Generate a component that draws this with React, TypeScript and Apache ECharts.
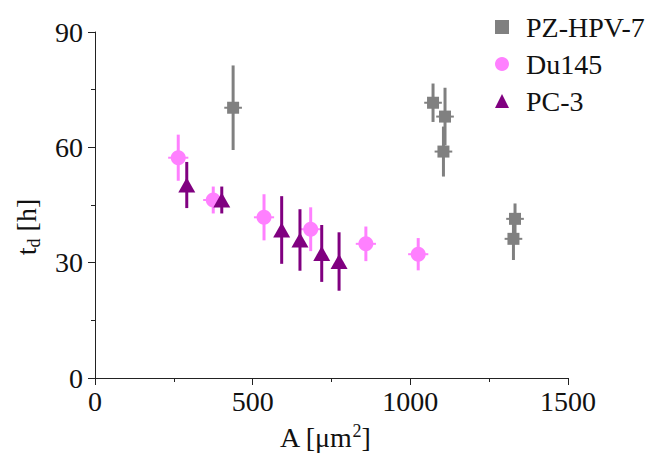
import React, { useEffect, useRef } from "react";
import * as echarts from "echarts";

// values
const pzX = [438, 1072, 1110, 1105, 1332, 1327];
const pzY = [70.3, 71.6, 68.0, 58.9, 41.4, 36.2];
const pzXErr = [28, 28, 28, 28, 28, 28];
const pzYErr = [11, 5, 7.5, 6.5, 4, 5.5];

const duX = [264, 375, 536, 684, 859, 1025];
const duY = [57.3, 46.3, 41.8, 38.7, 34.9, 32.2];
const duXErr = [32, 32, 32, 32, 32, 32];
const duYErr = [6, 3.5, 6, 5.7, 4.5, 4.2];

const pcX = [291, 402, 592, 650, 719, 774];
const pcY = [50.2, 46.3, 38.5, 35.9, 32.4, 30.3];
const pcXErr = [5, 5, 5, 5, 5, 5];
const pcYErr = [6, 3.5, 8.8, 8, 7.4, 7.6];

const seriesNames = ["PZ-HPV-7", "Du145", "PC-3"];
const colors = ["#808080", "#ff80ff", "#800080"];
const symbols = ["rect", "circle", "triangle"];
const symbolSizes: any[] = [12, 15, [17, 15]];

const xTitle = "{a|A [μm}{sup|2}{a|]}";
const yTitle = "{a|t}{sub|d}{a| [h]}";

const FONT = "Liberation Serif";

function rows(x: number[], y: number[], ex: number[], ey: number[]) {
  return x.map((v, i) => [v, y[i], ex[i], ey[i]]);
}

export default function App() {
  const ref = useRef<HTMLDivElement>(null);
  useEffect(() => {
    document.body.style.margin = "0";
    if (!ref.current) return;
    const chart = echarts.init(ref.current, undefined, { renderer: "svg" });
    const sets = [
      rows(pzX, pzY, pzXErr, pzYErr),
      rows(duX, duY, duXErr, duYErr),
      rows(pcX, pcY, pcXErr, pcYErr),
    ];
    const series: any[] = [];
    sets.forEach((data, k) => {
      series.push({
        type: "custom",
        name: seriesNames[k] + "-err",
        data,
        renderItem: (params: any, api: any) => {
          const x = api.value(0);
          const y = api.value(1);
          const ex = api.value(2);
          const ey = api.value(3);
          const top = api.coord([x, y + ey]);
          const bot = api.coord([x, y - ey]);
          const l = api.coord([x - ex, y]);
          const r = api.coord([x + ex, y]);
          const st = { stroke: colors[k], lineWidth: 3 };
          return {
            type: "group",
            children: [
              { type: "line", shape: { x1: top[0], y1: top[1], x2: bot[0], y2: bot[1] }, style: st },
              { type: "line", shape: { x1: l[0], y1: l[1], x2: r[0], y2: r[1] }, style: { stroke: colors[k], lineWidth: 2 } },
            ],
          };
        },
        encode: { x: 0, y: 1 },
        silent: true,
      });
      series.push({
        type: "scatter",
        name: seriesNames[k],
        data: data.map((d) => [d[0], d[1]]),
        symbol: symbols[k],
        symbolSize: symbolSizes[k],
        itemStyle: { color: colors[k], opacity: 1 },
      });
    });
    chart.setOption({
      animation: false,
      grid: { left: 95, right: 89, top: 32, bottom: 76, containLabel: false, outerBoundsMode: "none" },
      legend: {
        data: seriesNames,
        orient: "vertical",
        left: 490,
        top: 8,
        itemGap: 9,
        itemWidth: 14,
        itemHeight: 14,
        textStyle: { fontFamily: FONT, fontSize: 28, lineHeight: 27, color: "#111", padding: [0, 0, 0, 12] },
      },
      graphic: [
        {
          type: "text",
          x: 325,
          y: 437,
          style: {
            text: xTitle,
            align: "center",
            verticalAlign: "middle",
            rich: {
              a: { fontFamily: FONT, fontSize: 28, fill: "#111", lineHeight: 30 },
              sup: { fontFamily: FONT, fontSize: 18, fill: "#111", verticalAlign: "top", lineHeight: 30 },
            },
          },
        },
        {
          type: "text",
          x: 26,
          y: 227,
          rotation: Math.PI / 2,
          style: {
            text: yTitle,
            align: "center",
            verticalAlign: "middle",
            rich: {
              a: { fontFamily: FONT, fontSize: 28, fill: "#111", lineHeight: 34 },
              sub: { fontFamily: FONT, fontSize: 18, fill: "#111", verticalAlign: "bottom", lineHeight: 34 },
            },
          },
        },
      ],
      xAxis: {
        type: "value",
        min: 0,
        max: 1500,
        interval: 500,
        axisLine: { lineStyle: { color: "#222", width: 1 } },
        axisTick: { length: 7, lineStyle: { color: "#222" } },
        minorTick: { show: true, splitNumber: 2, length: 4, lineStyle: { color: "#222" } },
        splitLine: { show: false },
        axisLabel: { fontFamily: FONT, fontSize: 28, color: "#111", margin: 9, formatter: (v: number) => String(v) },
      },
      yAxis: {
        type: "value",
        min: 0,
        max: 90,
        interval: 30,
        axisLine: { show: true, lineStyle: { color: "#222", width: 1 } },
        axisTick: { show: true, length: 7, lineStyle: { color: "#222" } },
        minorTick: { show: true, splitNumber: 2, length: 4, lineStyle: { color: "#222" } },
        splitLine: { show: false },
        axisLabel: { fontFamily: FONT, fontSize: 28, color: "#111", margin: 12, formatter: (v: number) => String(v) },
      },
      series,
    });
    return () => chart.dispose();
  }, []);
  return <div ref={ref} style={{ width: 657, height: 454 }} />;
}
